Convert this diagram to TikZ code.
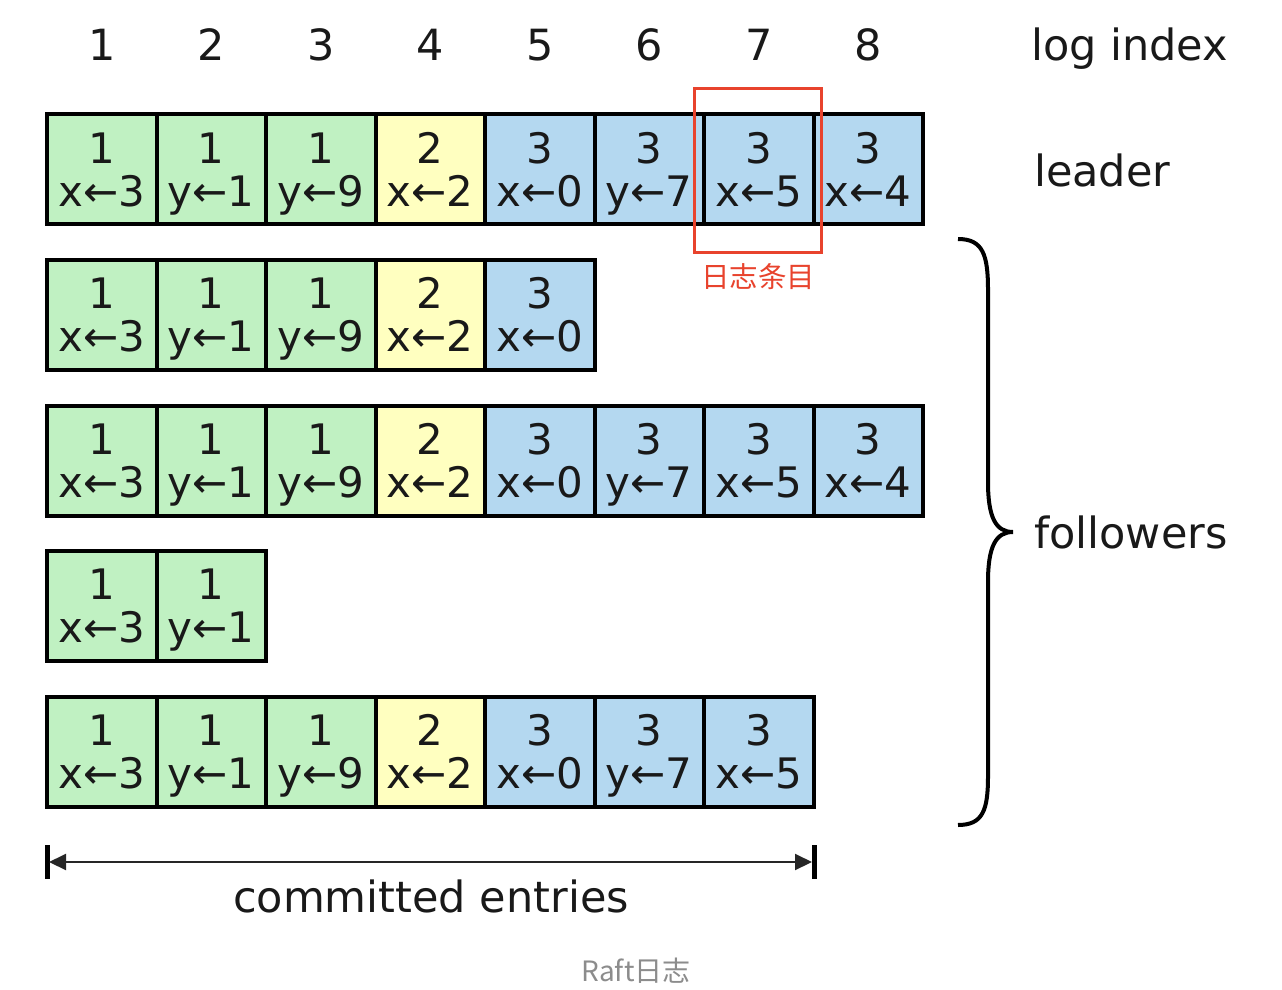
\documentclass[tikz,border=0pt]{standalone}
\usepackage{fontspec}
\setmainfont{DejaVu Sans}
\newfontfamily\cjk{Noto Sans CJK SC}
\usetikzlibrary{arrows.meta}
\definecolor{cgreen}{RGB}{192,241,194}
\definecolor{cyellow}{RGB}{255,255,192}
\definecolor{cblue}{RGB}{180,216,240}
\definecolor{cred}{RGB}{232,67,45}
\definecolor{cgray}{RGB}{140,140,140}
\definecolor{ctext}{RGB}{25,25,25}
\newcommand{\cellt}[2]{\rule{0pt}{41pt}#1\\#2\rule[-10pt]{0pt}{10pt}}
\tikzset{
  entry/.style={draw=black, line width=4pt, minimum width=109.5pt, minimum height=110pt,
    inner sep=0pt, outer sep=0pt, align=center, text=ctext,
    font=\fontsize{42}{43}\selectfont},
  tg/.style={entry, fill=cgreen},
  ty/.style={entry, fill=cyellow},
  tb/.style={entry, fill=cblue},
  lbl/.style={anchor=base, text=ctext, font=\fontsize{43}{45}\selectfont, inner sep=0pt},
  lblw/.style={lbl, anchor=base west},
  brace/.style={line width=4pt, black},
}
\begin{document}
\begin{tikzpicture}[x=1pt,y=-1pt]
\useasboundingbox (0,0) rectangle (1282,990);
% log index numbers
\foreach \i in {1,...,8}{
  \node[lbl] (idx\i) at ({47+109.5*(\i-0.5)},60) {\i};
}
\node[lblw] (logindex) at (1031,60) {log index};
\node[lblw] (leader) at (1034,186) {leader};
\node[lblw] (followers) at (1034,548) {followers};

% row 1 (leader)
\foreach [count=\c] \t/\v/\n/\s in {1/x/3/tg,1/y/1/tg,1/y/9/tg,2/x/2/ty,3/x/0/tb,3/y/7/tb,3/x/5/tb,3/x/4/tb}{
  \node[\s] (r1c\c) at ({47+109.5*(\c-0.5)},169) {\cellt{\t}{\v←\n}};
}
% row 2
\foreach [count=\c] \t/\v/\n/\s in {1/x/3/tg,1/y/1/tg,1/y/9/tg,2/x/2/ty,3/x/0/tb}{
  \node[\s] (r2c\c) at ({47+109.5*(\c-0.5)},314.5) {\cellt{\t}{\v←\n}};
}
% row 3
\foreach [count=\c] \t/\v/\n/\s in {1/x/3/tg,1/y/1/tg,1/y/9/tg,2/x/2/ty,3/x/0/tb,3/y/7/tb,3/x/5/tb,3/x/4/tb}{
  \node[\s] (r3c\c) at ({47+109.5*(\c-0.5)},460.5) {\cellt{\t}{\v←\n}};
}
% row 4
\foreach [count=\c] \t/\v/\n/\s in {1/x/3/tg,1/y/1/tg}{
  \node[\s] (r4c\c) at ({47+109.5*(\c-0.5)},605.5) {\cellt{\t}{\v←\n}};
}
% row 5
\foreach [count=\c] \t/\v/\n/\s in {1/x/3/tg,1/y/1/tg,1/y/9/tg,2/x/2/ty,3/x/0/tb,3/y/7/tb,3/x/5/tb}{
  \node[\s] (r5c\c) at ({47+109.5*(\c-0.5)},751.5) {\cellt{\t}{\v←\n}};
}

% red highlight box and label
\node[draw=cred, line width=3.5pt, minimum width=127pt, minimum height=164pt, inner sep=0pt] (redbox) at (758,170.5) {};
\node[anchor=base, inner sep=0pt, text=cred, font=\cjk\fontsize{28.5}{30}\selectfont] (redlbl) at (758,287) {日志条目};

% followers brace
\draw[brace] (958,239) .. controls (983,239) and (988,255) .. (988,290)
  -- (988,482) .. controls (988,518) and (996,532) .. (1013,532)
  .. controls (996,532) and (988,546) .. (988,582)
  -- (988,776) .. controls (988,810) and (983,825) .. (958,825);

% committed entries arrow
\coordinate (cl) at (47,862);
\coordinate (cr) at (814,862);
\draw[line width=5pt] (47,845) -- (47,879);
\draw[line width=5pt] (814,845) -- (814,879);
\draw[line width=2pt, black!85, {Triangle[length=17pt,width=16pt]}-{Triangle[length=17pt,width=16pt]}]
  ([xshift=2pt]cl) -- ([xshift=-2pt]cr);
\node[lbl] (committed) at (431,912) {committed entries};

% caption
\node[anchor=base, inner sep=0pt, text=cgray, font=\cjk\fontsize{28}{30}\selectfont] (caption) at (636,981) {Raft日志};
\end{tikzpicture}
\end{document}
